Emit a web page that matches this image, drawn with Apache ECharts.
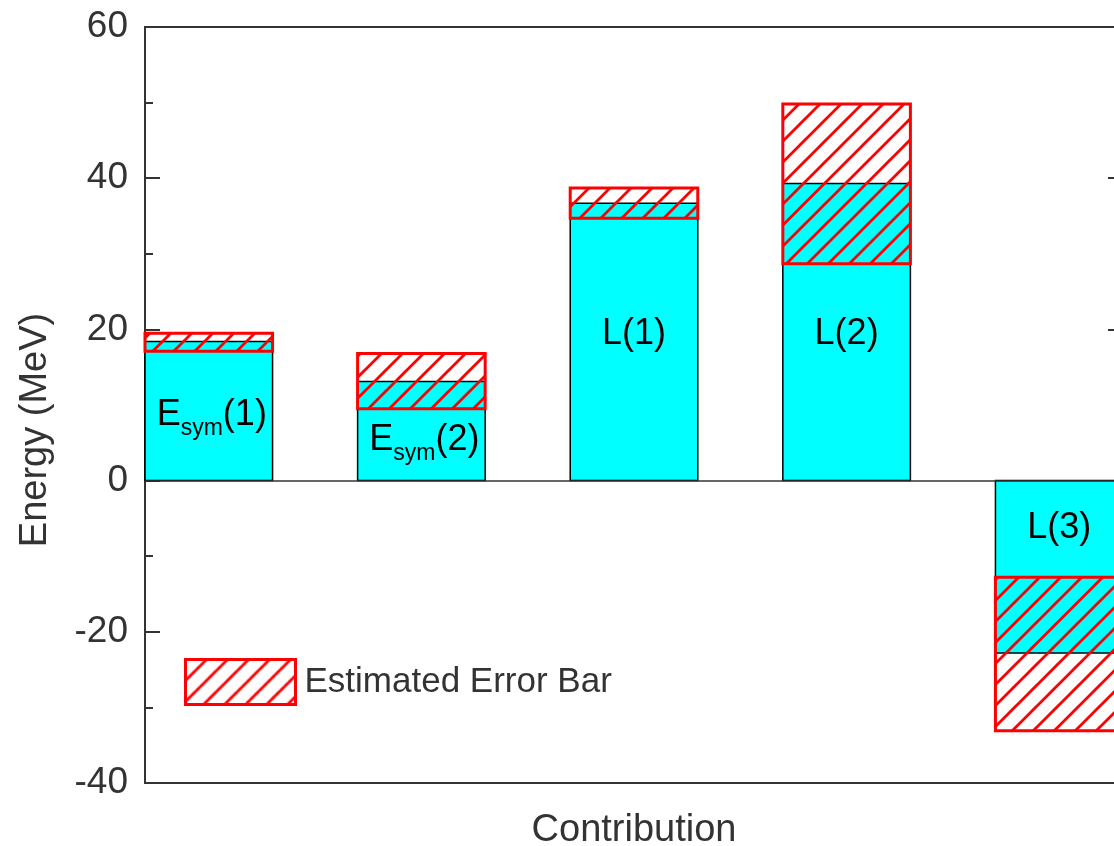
<!DOCTYPE html>
<html>
<head>
<meta charset="utf-8">
<script src="https://cdn.jsdelivr.net/npm/echarts@6/dist/echarts.min.js"></script>
<style>html,body{margin:0;padding:0;background:#fff;overflow:hidden}#c{width:1114px;height:846px}</style>
</head>
<body>
<div id="c"></div>
<script>
// ---- data ----
const categories = ['E_sym(1)', 'E_sym(2)', 'L(1)', 'L(2)', 'L(3)'];
const positions = [1, 2, 3, 4, 5];
const values = [18.4, 13.1, 36.7, 39.3, -22.8];
const errLow = [17.1, 9.5, 34.7, 28.7, -33.1];
const errHigh = [19.5, 16.8, 38.7, 49.8, -12.8];
const labelAt = [8.7, 5.3, 19.1, 19.1, -6.5];
const yTicks = [-40, -20, 0, 20, 40, 60];

// ---- styling ----
const FONT = "'Liberation Sans', Arial, Helvetica, sans-serif";
const TEXT = '#333';
const HALF = 0.3; // half bar width in axis units

function hatch() {
  const s = 21, c = document.createElement('canvas');
  c.width = s; c.height = s;
  const g = c.getContext('2d');
  g.strokeStyle = '#ff0000'; g.lineWidth = 2.8; g.lineCap = 'square';
  g.beginPath();
  g.moveTo(0, s); g.lineTo(s, 0);
  g.moveTo(-s, s); g.lineTo(s, -s);
  g.moveTo(0, 2 * s); g.lineTo(2 * s, 0);
  g.stroke();
  return { image: c, repeat: 'repeat' };
}
const pattern = hatch();

function richLabel(name) {
  const m = name.match(/^E_sym(.*)$/);
  if (m) return '{e|E}{s|sym}{e|' + m[1] + '}';
  return '{e|' + name + '}';
}

const barData = positions.map((p, i) => [p, values[i], labelAt[i], i]);
const errData = positions.map((p, i) => [p, errLow[i], errHigh[i]]);

const chart = echarts.init(document.getElementById('c'), null, { renderer: 'canvas' });
chart.setOption({
  animation: false,
  backgroundColor: '#fff',
  grid: { left: 145, width: 978, top: 27, height: 756, containLabel: false, outerBoundsMode: 'none',
    show: true, borderColor: '#333', borderWidth: 2, backgroundColor: 'transparent' },
  legend: {
    left: 184, top: 658, padding: 0,
    itemWidth: 110, itemHeight: 45,
    data: [{ name: 'Estimated Error Bar', icon: 'rect', itemStyle: { color: pattern, borderColor: '#ff0000', borderWidth: 3 } }],
    textStyle: { fontFamily: FONT, fontSize: 35, color: TEXT, padding: [0, 0, 0, 4] }
  },
  xAxis: {
    type: 'value', min: 0.7, max: 5.3,
    axisLine: { show: true, onZero: false, lineStyle: { color: '#333', width: 2 } },
    axisTick: { show: false }, axisLabel: { show: false }, splitLine: { show: false },
    name: 'Contribution', nameLocation: 'middle', nameGap: 29,
    nameTextStyle: { fontFamily: FONT, fontSize: 38, color: TEXT }
  },
  yAxis: [{
    type: 'value', min: yTicks[0], max: yTicks[yTicks.length - 1], interval: 20,
    axisLine: { show: true, lineStyle: { color: '#333', width: 2 } },
    axisTick: { show: true, inside: true, length: 15, lineStyle: { color: '#333', width: 2 } },
    minorTick: { show: true, splitNumber: 2, length: 8, lineStyle: { color: '#333', width: 2 } },
    axisLabel: { fontFamily: FONT, fontSize: 37, color: TEXT, margin: 17 },
    splitLine: { show: false },
    name: 'Energy (MeV)', nameLocation: 'middle', nameGap: 90,
    nameTextStyle: { fontFamily: FONT, fontSize: 38, color: TEXT, padding: [0, 50, 0, 0] }
  }, {
    type: 'value', position: 'right', min: yTicks[0], max: yTicks[yTicks.length - 1], interval: 20,
    axisLine: { show: true, lineStyle: { color: '#333', width: 2 } },
    axisTick: { show: true, inside: true, length: 15, lineStyle: { color: '#333', width: 2 } },
    minorTick: { show: true, splitNumber: 2, length: 8, lineStyle: { color: '#333', width: 2 } },
    axisLabel: { show: false }, splitLine: { show: false }
  }],
  series: [{
    type: 'custom', name: 'Contribution', data: barData, z: 2,
    renderItem: function (params, api) {
      const x = api.value(0), v = api.value(1), ly = api.value(2), i = api.value(3);
      const a = api.coord([x - HALF, v]);
      const b = api.coord([x + HALF, 0]);
      const lp = api.coord([x, ly]);
      const hasSub = /_sym/.test(categories[i]);
      return {
        type: 'group', children: [
          { type: 'rect', shape: { x: a[0], y: Math.min(a[1], b[1]), width: b[0] - a[0], height: Math.abs(b[1] - a[1]) },
            style: { fill: '#00ffff', stroke: '#000', lineWidth: 1.5 } },
          { type: 'text', x: lp[0] + (hasSub ? 3 : 0), y: lp[1] - (hasSub ? 0 : 2), z2: 10,
            style: { text: richLabel(categories[i]), align: 'center', verticalAlign: 'middle',
              rich: {
                e: { fontFamily: FONT, fontSize: 36, color: TEXT, lineHeight: 50 },
                s: { fontFamily: FONT, fontSize: 23, color: TEXT, lineHeight: 23, verticalAlign: 'bottom' }
              } } }
        ]
      };
    },
    markLine: {
      silent: true, symbol: 'none', label: { show: false },
      lineStyle: { color: '#333', width: 1.5, type: 'solid' },
      data: [{ yAxis: 0 }]
    }
  }, {
    type: 'custom', name: 'Estimated Error Bar', data: errData, z: 3,
    itemStyle: { color: pattern, borderColor: '#ff0000', borderWidth: 3 },
    renderItem: function (params, api) {
      const x = api.value(0);
      const a = api.coord([x - HALF, api.value(2)]);
      const b = api.coord([x + HALF, api.value(1)]);
      return { type: 'rect', shape: { x: a[0], y: Math.min(a[1], b[1]), width: b[0] - a[0], height: Math.abs(b[1] - a[1]) },
        style: { fill: pattern, stroke: '#ff0000', lineWidth: 3 } };
    }
  }]
});
</script>
</body>
</html>
